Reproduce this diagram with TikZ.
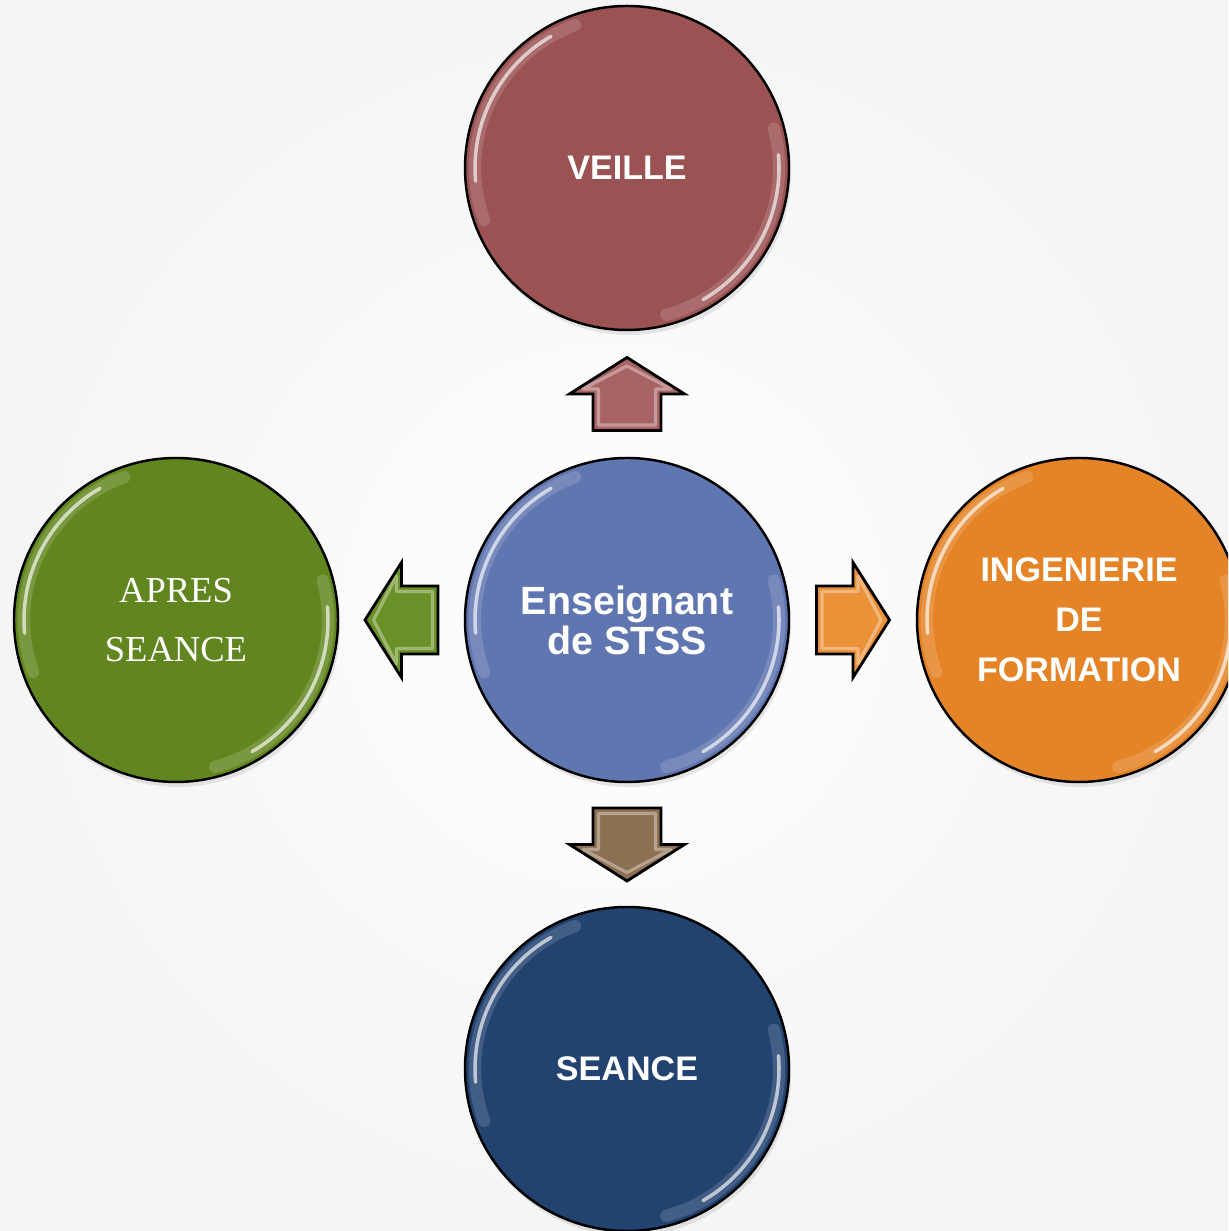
\documentclass[tikz,border=0pt]{standalone}
\usepackage{fontspec}
\setmainfont{Liberation Sans}
\newfontfamily\apresfont{Liberation Serif}
\usepackage{xcolor}
\usetikzlibrary{calc,shadows}

\definecolor{veille}{HTML}{9A5252}
\definecolor{centre}{HTML}{6076B0}
\definecolor{apres}{HTML}{62861F}
\definecolor{inge}{HTML}{E48426}
\definecolor{seance}{HTML}{22426F}
\definecolor{flup}{HTML}{A86464}
\definecolor{flleft}{HTML}{6A9128}
\definecolor{flright}{HTML}{EB9137}
\definecolor{fldown}{HTML}{8C7052}

\tikzset{
  rond/.style={circle,draw=black,line width=0.7pt,minimum size=3.24cm,inner sep=0pt,
    text=white,align=center,
    drop shadow={opacity=0.18,shadow xshift=0.02cm,shadow yshift=-0.05cm},
    path picture={
      \draw[white,opacity=0.15,line width=3.5pt,line cap=round] (path picture bounding box.center) ++(110:1.52) arc (110:200:1.52);
      \draw[white,opacity=0.65,line width=1pt,line cap=round] (path picture bounding box.center) ++(120:1.52) arc (120:185:1.52);
      \draw[white,opacity=0.15,line width=3.5pt,line cap=round] (path picture bounding box.center) ++(-75:1.52) arc (-75:15:1.52);
      \draw[white,opacity=0.65,line width=1pt,line cap=round] (path picture bounding box.center) ++(-60:1.52) arc (-60:5:1.52);
    }},
  sansbold/.style={font=\fontsize{9.7}{14.2}\selectfont\bfseries},
  fleche/.style={draw=black,line width=0.8pt,line join=miter}
}

% block arrow half way between two anchors
\newcommand{\blockarrow}[4]{%
  \begin{scope}[shift={($(#1)!0.5!(#2)$)},rotate=#3]
    \draw[fleche,fill=#4] (-0.365,-0.34) -- (0,-0.34) -- (0,-0.575) -- (0.365,0)
      -- (0,0.575) -- (0,0.34) -- (-0.365,0.34) -- cycle;
    \draw[white,opacity=0.35,line width=0.9pt,line join=round] (-0.31,-0.285) -- (0.05,-0.285)
      -- (0.05,-0.44) -- (0.28,0) -- (0.05,0.44) -- (0.05,0.285) -- (-0.31,0.285) -- cycle;
  \end{scope}}

\begin{document}
\begin{tikzpicture}
  \useasboundingbox (0,0) rectangle (12.28,12.31);
  \clip (0,0) rectangle (12.28,12.31);
  \shade[inner color=white,outer color=black!4] (0,0) rectangle (12.28,12.31);

  \node[rond,fill=centre,font=\fontsize{11.2}{11.4}\selectfont\bfseries] (centre) at (6.27,6.11) {Enseignant\\de STSS};
  \node[rond,fill=veille,sansbold] (veille) at (6.27,10.63) {VEILLE};
  \node[rond,fill=apres,font=\apresfont\fontsize{10.4}{17}\selectfont] (apres) at (1.76,6.11) {APRES\\SEANCE};
  \node[rond,fill=inge,sansbold] (inge) at (10.79,6.11) {INGENIERIE\\DE\\FORMATION};
  \node[rond,fill=seance,sansbold] (seance) at (6.27,1.62) {SEANCE};

  \blockarrow{centre.north}{veille.south}{90}{flup}
  \blockarrow{centre.west}{apres.east}{180}{flleft}
  \blockarrow{centre.east}{inge.west}{0}{flright}
  \blockarrow{centre.south}{seance.north}{-90}{fldown}
\end{tikzpicture}
\end{document}
